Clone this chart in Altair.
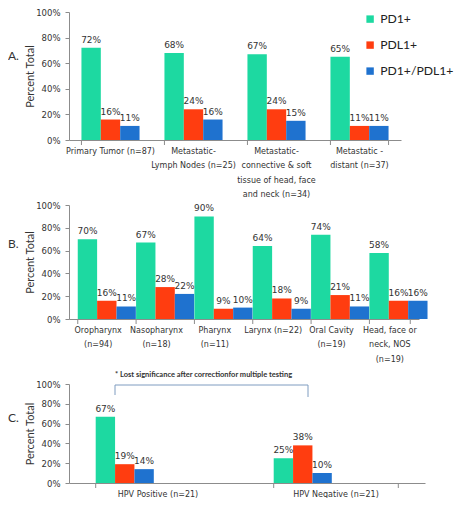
import altair as alt
import pandas as pd

series = ["PD1+", "PDL1+", "PD1+/PDL1+"]
colors = ["#1DD9A1", "#FF3D10", "#1F72CF"]

a_cats = ["Primary Tumor (n=87)", "Metastatic-|Lymph Nodes (n=25)",
          "Metastatic-|connective & soft|tissue of head, face|and neck (n=34)",
          "Metastatic -|distant (n=37)"]
a_pd1 = [72, 68, 67, 65]
a_pdl1 = [16, 24, 24, 11]
a_both = [11, 16, 15, 11]

b_cats = ["Oropharynx|(n=94)", "Nasopharynx|(n=18)", "Pharynx|(n=11)",
          "Larynx (n=22)", "Oral Cavity|(n=19)", "Head, face or|neck, NOS|(n=19)"]
b_pd1 = [70, 67, 90, 64, 74, 58]
b_pdl1 = [16, 28, 9, 18, 21, 16]
b_both = [11, 22, 10, 9, 11, 16]

c_cats = ["HPV Positive (n=21)", "HPV Negative (n=21)"]
c_pd1 = [67, 25]
c_pdl1 = [19, 38]
c_both = [14, 10]

note = "* Lost significance after correctionfor multiple testing"

LBL_FONT = "DejaVu Sans"
TTL_FONT = "Lato"
GREY = "#8c8c8c"


def panel(cats, pd1, pdl1, both, letter, w, h, extra=None):
    rows = []
    for i, c in enumerate(cats):
        for s, vals in zip(series, [pd1, pdl1, both]):
            rows.append({"cat": c, "series": s, "value": vals[i], "label": f"{vals[i]}%"})
    df = pd.DataFrame(rows)
    xenc = alt.X("cat:N", sort=cats,
                 scale=alt.Scale(paddingInner=0.3, paddingOuter=0.15),
                 axis=alt.Axis(title=None, labelAngle=0, ticks=False,
                               labelExpr="split(datum.label, '|')",
                               labelFont=LBL_FONT, labelFontSize=8, labelColor="#333",
                               labelLineHeight=14.5, labelPadding=7, labelOverlap=False,
                               domainColor=GREY))
    yenc = alt.Y("value:Q", scale=alt.Scale(domain=[0, 100]),
                 axis=alt.Axis(values=[0, 20, 40, 60, 80, 100], labelExpr="datum.value + '%'",
                               labelOverlap=False,
                               title="Percent Total", grid=False, titleFont=TTL_FONT,
                               titleFontSize=11, titleFontWeight="normal", titleColor="#333",
                               titlePadding=0,
                               labelFont=LBL_FONT, labelFontSize=8.5, labelColor="#333",
                               tickColor=GREY, tickSize=4, domainColor=GREY, labelPadding=5))
    xoff = alt.XOffset("series:N", sort=series, scale=alt.Scale(paddingInner=0, paddingOuter=0))
    base = alt.Chart(df).encode(x=xenc, xOffset=xoff, y=yenc)
    bars = base.mark_bar().encode(
        color=alt.Color("series:N", sort=series,
                        scale=alt.Scale(domain=series, range=colors),
                        legend=alt.Legend(title=None, orient="none", legendX=295, legendY=1,
                                          symbolType="square", symbolSize=55,
                                          symbolStrokeWidth=0, padding=0, offset=0,
                                          labelFont=TTL_FONT, labelFontSize=12.2,
                                          labelColor="#222", rowPadding=13)),
    )
    labels = base.mark_text(dy=-8, font=LBL_FONT, fontSize=9, color="#333").encode(
        text="label:N")
    cdf = pd.DataFrame({"cat": cats})
    seps = alt.Chart(cdf).mark_rule(color=GREY).encode(
        x=alt.X("cat:N", sort=cats, bandPosition=0),
        y=alt.value(h), y2=alt.value(h + 5))
    last = alt.Chart(pd.DataFrame({"cat": [cats[-1]]})).mark_rule(color=GREY).encode(
        x=alt.X("cat:N", sort=cats, bandPosition=1),
        y=alt.value(h), y2=alt.value(h + 5))
    let = alt.Chart(pd.DataFrame({"t": [letter]})).mark_text(
        align="left", font=TTL_FONT, fontSize=12, color="#333").encode(
        text="t:N", x=alt.value(-61), y=alt.value(h * 0.34))
    layers = [bars, labels, seps, last, let]
    if extra:
        layers += extra
    return alt.layer(*layers).properties(width=w, height=h)


bracket_color = "#7f9cc0"
cnote = alt.Chart(pd.DataFrame({"t": [note]})).mark_text(
    align="left", font=TTL_FONT, fontSize=7.5, fontWeight="bold", color="#333").encode(
    text="t:N", x=alt.value(46), y=alt.value(-9))
bh = alt.Chart(pd.DataFrame({"k": [1]})).mark_rule(color=bracket_color).encode(
    x=alt.value(46), x2=alt.value(239), y=alt.value(1))
bl = alt.Chart(pd.DataFrame({"k": [1]})).mark_rule(color=bracket_color).encode(
    x=alt.value(46), y=alt.value(1), y2=alt.value(11))
br = alt.Chart(pd.DataFrame({"k": [1]})).mark_rule(color=bracket_color).encode(
    x=alt.value(239), y=alt.value(1), y2=alt.value(13))

pa = panel(a_cats, a_pd1, a_pdl1, a_both, "A.", 332, 128)
pb = panel(b_cats, b_pd1, b_pdl1, b_both, "B.", 350, 114)
pc = panel(c_cats, c_pd1, c_pdl1, c_both, "C.", 356, 99, extra=[cnote, bh, bl, br])

chart = alt.vconcat(pa, pb, pc, spacing=65, bounds="flush").properties(
    padding={"left": 0, "top": 0, "right": 0, "bottom": 0}
).configure_view(stroke=None)

chart.save("out.html", embed_options={"renderer": "svg", "actions": False})
